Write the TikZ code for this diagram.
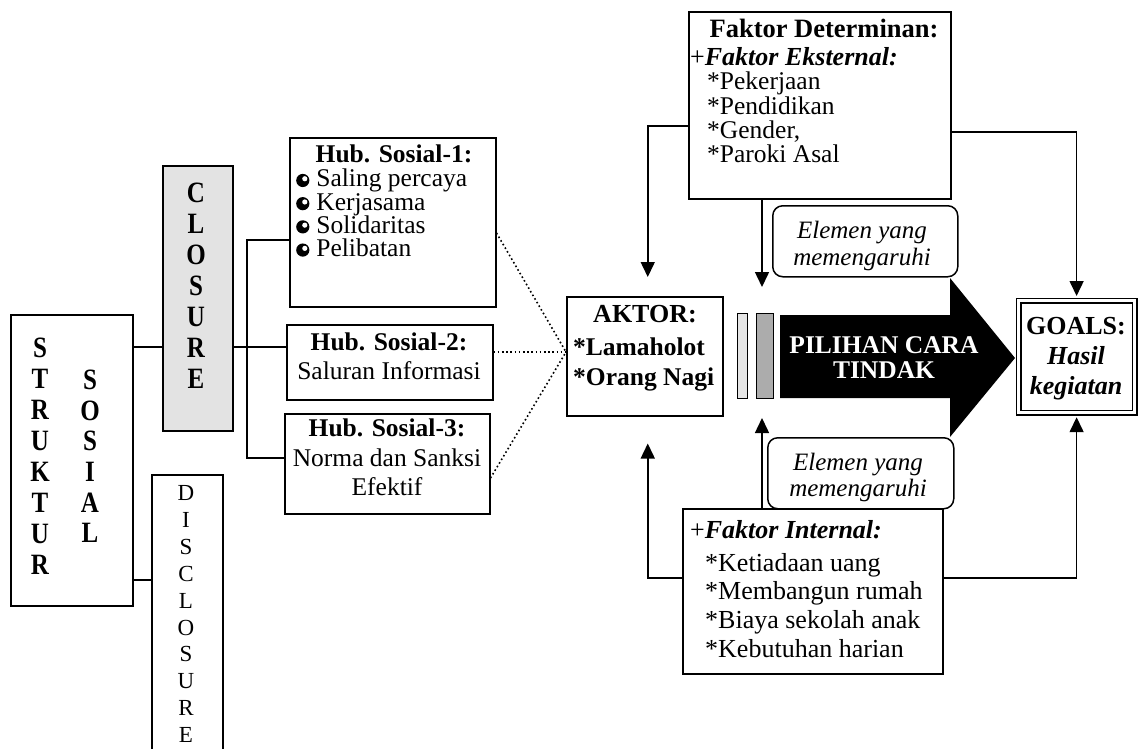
\documentclass[tikz,border=0pt]{standalone}
\usepackage{graphicx}
\usepackage{fontspec}
\setmainfont{Liberation Serif}
\usetikzlibrary{arrows.meta,calc,positioning}
\tikzset{
  box/.style  = {draw, line width=1.5pt, fill=white, inner sep=0pt},
  rbox/.style = {box, rounded corners=10pt},
  gbox/.style = {box, double, double distance=3.5pt, line width=1.2pt},
  wire/.style = {line width=1.5pt},
  link/.style = {line width=1.6pt, dash pattern=on 1.6pt off 2.6pt},
  vec/.style  = {wire, -{Triangle[length=15pt,width=14pt]}},
  txt/.style  = {inner sep=0pt, font=\fontsize{25.5}{23}\selectfont},
  ltr/.style  = {inner sep=0pt, font=\fontsize{25}{25}\selectfont},
}
\newcommand{\hubdot}{\tikz[baseline=-0.55ex]{\fill (0,0) circle (6.6pt);
  \fill[white] (2pt,1.7pt) circle (2.6pt);}}
\newcommand{\tall}[1]{\scalebox{1}[1.18]{#1}}

\begin{document}
\begin{tikzpicture}[x=1pt,y=-1pt]
 \useasboundingbox (0,0) rectangle (1139,748);
 % struktur sosial
 \node[box, minimum width=122, minimum height=291, anchor=north west] (struktur) at (10,314) {};
 \foreach \c [count=\i from 0] in {S,T,R,U,K,T,U,R}
   \node[ltr] (stk\i) at (40,348+31*\i) {\tall{\textbf{\c}}};
 \foreach \c [count=\i from 0] in {S,O,S,I,A,L}
   \node[ltr] (sos\i) at (90,380+30.6*\i) {\tall{\textbf{\c}}};
 % closure / disclosure
 \node[box, fill=gray!22, minimum width=70, minimum height=265, anchor=north west] (closure) at (162,165) {};
 \foreach \c [count=\i from 0] in {C,L,O,S,U,R,E}
   \node[ltr] (cls\i) at (196,193+31*\i) {\tall{\textbf{\c}}};
 \node[box, minimum width=71, minimum height=290, anchor=north west] (disclosure) at (151,474) {};
 \foreach \c [count=\i from 0] in {D,I,S,C,L,O,S,U,R,E}
   \node[ltr, font=\fontsize{23}{23}\selectfont] (dcl\i) at (186,493+26.9*\i) {\c};
 % hubungan sosial
 \node[box, minimum width=206, minimum height=169, anchor=north west] (hubA) at (289,137) {};
 \node[txt, anchor=north] (hubAhd) at (394,145) {\textbf{Hub. Sosial-1:}};
 \node[txt, align=left, anchor=north west, font=\fontsize{25.5}{23.2}\selectfont] (hubAtx) at (296,169)
   {\hubdot\hspace{7pt}Saling percaya\\ \hubdot\hspace{7pt}Kerjasama\\
    \hubdot\hspace{7pt}Solidaritas\\ \hubdot\hspace{7pt}Pelibatan};
 \node[box, minimum width=206, minimum height=75, anchor=north west] (hubB) at (286,324) {};
 \node[txt, align=center, anchor=north, font=\fontsize{25.5}{29}\selectfont] (hubBtx) at (389,333)
   {\textbf{Hub. Sosial-2:}\\Saluran Informasi};
 \node[box, minimum width=205, minimum height=100, anchor=north west] (hubC) at (284,413) {};
 \node[txt, align=center, anchor=north, font=\fontsize{25.5}{29.5}\selectfont] (hubCtx) at (387,419)
   {\textbf{Hub. Sosial-3:}\\Norma dan Sanksi\\Efektif};
 % aktor
 \node[box, minimum width=156, minimum height=119, anchor=north west] (aktor) at (566,296) {};
 \node[txt, anchor=north, font=\fontsize{26}{26}\selectfont] (aktorhd) at (645,305) {\textbf{AKTOR:}};
 \node[txt, align=left, anchor=north west, font=\fontsize{25.5}{30}\selectfont] (aktortx) at (573,338)
   {\textbf{*Lamaholot}\\\textbf{*Orang Nagi}};
 % faktor determinan
 \node[box, minimum width=262, minimum height=187, anchor=north west] (faktor) at (688,11) {};
 \node[txt, anchor=north, font=\fontsize{26.5}{26}\selectfont] (faktorhd) at (824,19) {\textbf{Faktor Determinan:}};
 \node[txt, anchor=north west, font=\fontsize{26}{26}\selectfont] (ekst) at (690,47) {+\textbf{\textit{Faktor Eksternal:}}};
 \node[txt, align=left, anchor=north west, font=\fontsize{25.5}{24.2}\selectfont] (eksttx) at (707,72)
   {*Pekerjaan\\*Pendidikan\\*Gender,\\*Paroki Asal};
 % faktor internal
 \node[box, minimum width=260, minimum height=165, anchor=north west] (internal) at (682,508) {};
 \node[txt, anchor=north west, font=\fontsize{26}{26}\selectfont] (inthd) at (690,520) {+\textbf{\textit{Faktor Internal:}}};
 \node[txt, align=left, anchor=north west, font=\fontsize{26}{28.7}\selectfont] (inttx) at (705,553)
   {*Ketiadaan uang\\*Membangun rumah\\*Biaya sekolah anak\\*Kebutuhan harian};
 % elemen
 \node[rbox, minimum width=185, minimum height=71, anchor=north west] (elemA) at (772,205) {};
 \node[txt, align=center, anchor=north, font=\fontsize{25}{27}\selectfont] (elemAtx) at (862,221)
   {\textit{Elemen yang}\\\textit{memengaruhi}};
 \node[rbox, minimum width=186, minimum height=71, anchor=north west] (elemB) at (767,437) {};
 \node[txt, align=center, anchor=north, font=\fontsize{25}{26}\selectfont] (elemBtx) at (858,453)
   {\textit{Elemen yang}\\\textit{memengaruhi}};
 % pilihan cara tindak
 \node[box, line width=1.2pt, fill=gray!20, minimum width=10, minimum height=85, anchor=north west] (barA) at (737,313) {};
 \node[box, line width=1.2pt, fill=gray!65, minimum width=17, minimum height=85, anchor=north west] (barB) at (756,313) {};
 \fill[black] (780,315) -- (950,315) -- (950,278) -- (1015,358) -- (950,437)
   -- (950,398) -- (780,398) -- cycle;
 \node[txt, align=center, text=white, font=\fontsize{25.5}{25}\selectfont] (pilihan) at (884,358)
   {\textbf{PILIHAN CARA}\\\textbf{TINDAK}};
 % goals
 \node[gbox, minimum width=116, minimum height=112, anchor=north west] (goals) at (1018,300) {};
 \node[txt, align=center, anchor=north, font=\fontsize{26}{30}\selectfont] (goalstx) at (1076,317)
   {\textbf{GOALS:}\\\textbf{\textit{Hasil}}\\\textbf{\textit{kegiatan}}};

 % connectors
 \coordinate (jA) at (0,347);
 \coordinate (jB) at (0,580);
 \coordinate (brTop) at (247,240);
 \coordinate (brBot) at (247,458);
 \draw[wire] (struktur.east |- jA) -- (closure.west |- jA);
 \draw[wire] (struktur.east |- jB) -- (disclosure.west |- jB);
 \draw[wire] (closure.east |- jA) -- (hubB.west |- jA);
 \draw[wire] (hubA.west |- brTop) -- (brTop) -- (brBot) -- (hubC.west |- brBot);
 \coordinate (meet) at (566,352);
 \coordinate (dA) at (0,233);
 \coordinate (dC) at (0,478);
 \draw[link] (hubA.east |- dA) -- (meet);
 \draw[link] (hubB.east |- meet) -- (meet);
 \draw[link] (hubC.east |- dC) -- (meet);
 % arrows
 \coordinate (eL) at (0,126);
 \coordinate (eR) at (0,132);
 \coordinate (iY) at (0,578);
 \coordinate (midT) at (762,287);
 \coordinate (midB) at (762,418);
 \draw[vec] (faktor.west |- eL) -| ([xshift=3pt,yshift=19pt]aktor.north);
 \draw[vec] (faktor.south -| midT) -- (midT);
 \draw[vec] (faktor.east |- eR) -| ([yshift=4pt]goals.north);
 \draw[vec] (internal.west |- iY) -| ([xshift=3pt,yshift=-27pt]aktor.south);
 \draw[vec] (internal.north -| midB) -- (midB);
 \draw[vec] (internal.east |- iY) -| ([yshift=-4pt]goals.south);
\end{tikzpicture}
\end{document}
